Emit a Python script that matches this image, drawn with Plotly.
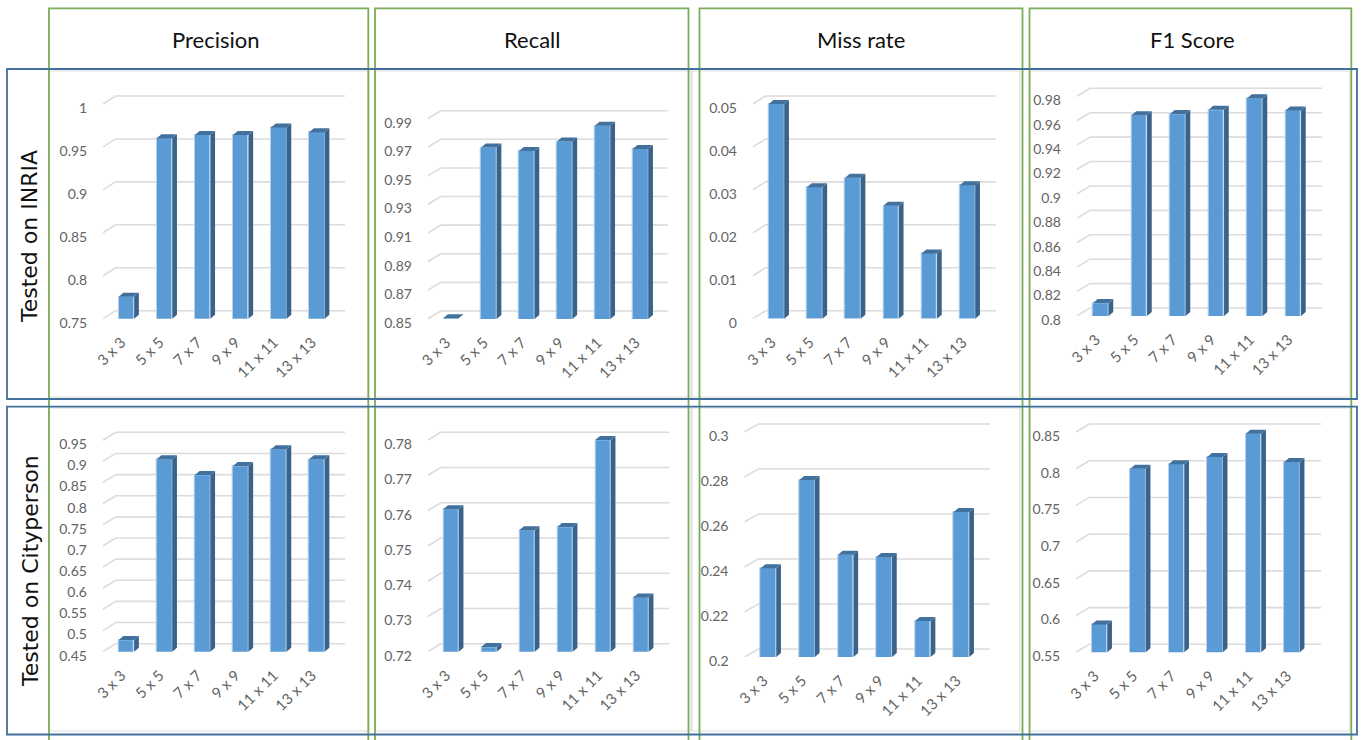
import plotly.graph_objects as go

WIDTH, HEIGHT = 1362, 740

kernels = ["3 x 3", "5 x 5", "7 x 7", "9 x 9", "11 x 11", "13 x 13"]
metrics = ["Precision", "Recall", "Miss rate", "F1 Score"]
datasets = ["Tested on INRIA", "Tested on Cityperson"]

inria_precision = [0.7756, 0.960, 0.964, 0.964, 0.9727, 0.967]
inria_recall = [0.8505, 0.9698, 0.9675, 0.974, 0.985, 0.9689]
inria_miss = [0.05, 0.0306, 0.0328, 0.0263, 0.0152, 0.0311]
inria_f1 = [0.8107, 0.9645, 0.9656, 0.9689, 0.9784, 0.9683]
city_precision = [0.4777, 0.905, 0.868, 0.889, 0.929, 0.905]
city_recall = [0.7604, 0.7213, 0.7545, 0.7554, 0.7801, 0.7354]
city_miss = [0.2394, 0.2787, 0.2455, 0.2444, 0.2160, 0.2644]
city_f1 = [0.588, 0.80, 0.806, 0.816, 0.8475, 0.809]

ticks_inria_precision = ["0.75", "0.8", "0.85", "0.9", "0.95", "1"]
ticks_inria_recall = ["0.85", "0.87", "0.89", "0.91", "0.93", "0.95", "0.97", "0.99"]
ticks_inria_miss = ["0", "0.01", "0.02", "0.03", "0.04", "0.05"]
ticks_inria_f1 = ["0.8", "0.82", "0.84", "0.86", "0.88", "0.9", "0.92", "0.94", "0.96", "0.98"]
ticks_city_precision = ["0.45", "0.5", "0.55", "0.6", "0.65", "0.7", "0.75", "0.8", "0.85", "0.9", "0.95"]
ticks_city_recall = ["0.72", "0.73", "0.74", "0.75", "0.76", "0.77", "0.78"]
ticks_city_miss = ["0.2", "0.22", "0.24", "0.26", "0.28", "0.3"]
ticks_city_f1 = ["0.55", "0.6", "0.65", "0.7", "0.75", "0.8", "0.85"]

# Pixel frame of each panel: axis x, back wall x, grid end x, front floor y,
# top back gridline y, first bar centre, bar pitch.
panels = [
    (inria_precision, ticks_inria_precision, (103, 115.5, 345, 318.7, 96, 126.4, 38.1)),
    (inria_recall, ticks_inria_recall, (427.7, 440.7, 667.7, 319, 110.7, 451, 37.9)),
    (inria_miss, ticks_inria_miss, (752.7, 765.7, 996, 318.7, 96, 776.5, 38.2)),
    (inria_f1, ticks_inria_f1, (1076.7, 1090, 1322, 316, 88.3, 1100.8, 38.5)),
    (city_precision, ticks_city_precision, (102.7, 115.7, 345, 651.7, 432.3, 126.4, 38.1)),
    (city_recall, ticks_city_recall, (427.7, 440.7, 669.3, 651.7, 432.3, 451, 38)),
    (city_miss, ticks_city_miss, (744.3, 758.3, 990, 657, 424, 768.5, 38.6)),
    (city_f1, ticks_city_f1, (1076, 1089.3, 1321, 652.3, 424, 1099.5, 38.5)),
]

FLOOR_DEPTH = 8
BAR_WIDTH_PX = 15.5
BAR_DX, BAR_DY = 4.7, 4
Y_TICK_FONT = dict(family="Lato", size=14, color="#636363")
X_TICK_FONT = dict(family="Lato", size=15, color="#636363")
FRONT, SIDE, TOP = "#5b9bd5", "#3a638c", "#41719c"
GRID = "#dcdcdc"
GREEN, BLUE = "#7aad55", "#41709c"


def px_x(v):
    return v / WIDTH


def px_y(v):
    return 1 - v / HEIGHT


fig = go.Figure()
shapes = []

for i, (values, tick_text, frame) in enumerate(panels, start=1):
    axis_x, back_x, end_x, floor_y, top_y, centre0, pitch = frame
    tick_vals = [float(t) for t in tick_text]
    y_min, y_max = tick_vals[0], tick_vals[-1]
    scale = (floor_y - FLOOR_DEPTH - top_y) / (y_max - y_min)
    xname, yname = f"x{i}", f"y{i}"
    xkey, ykey = f"xaxis{i}", f"yaxis{i}"

    to_x = lambda p: (p - centre0) / pitch
    half = BAR_WIDTH_PX / 2 / pitch
    dx = BAR_DX / pitch
    dy = BAR_DY / scale
    depth = FLOOR_DEPTH / scale
    dom_right = end_x + 4
    dom_top = top_y - 4

    fig.layout[xkey] = dict(
        domain=[px_x(axis_x), px_x(dom_right)],
        range=[to_x(axis_x), to_x(dom_right)],
        anchor=yname,
        tickmode="array",
        tickvals=list(range(len(kernels))),
        ticktext=kernels,
        tickangle=-45,
        tickfont=X_TICK_FONT,
        ticks="outside",
        ticklen=8,
        tickcolor="rgba(0,0,0,0)",
        ticklabelshift=-5,
        showgrid=False,
        zeroline=False,
        showline=False,
    )
    fig.layout[ykey] = dict(
        domain=[px_y(floor_y), px_y(dom_top)],
        range=[y_min, y_min + (floor_y - dom_top) / scale],
        anchor=xname,
        tickmode="array",
        tickvals=tick_vals,
        ticktext=tick_text,
        tickfont=Y_TICK_FONT,
        ticks="outside",
        ticklen=12,
        tickcolor="rgba(0,0,0,0)",
        ticklabelshift=4,
        showgrid=False,
        zeroline=False,
        showline=False,
    )

    # Back wall gridlines with their slanted run along the side wall
    for v in tick_vals:
        shapes.append(dict(
            type="path", xref=xname, yref=yname, layer="below",
            path=(f"M {to_x(axis_x)} {v} L {to_x(back_x)} {v + depth} "
                  f"L {to_x(end_x)} {v + depth}"),
            line=dict(color=GRID, width=1.6),
        ))

    positions = list(range(len(kernels)))
    fig.add_trace(go.Bar(
        x=positions, y=values, xaxis=xname, yaxis=yname, width=2 * half,
        marker=dict(color=FRONT, line=dict(color="#b5d2ec", width=1)),
        showlegend=False, hoverinfo="y",
    ))

    # Extruded side and top faces of each bar
    for p, v in zip(positions, values):
        r = p + half
        l = p - half
        fig.add_trace(go.Scatter(
            x=[r, r + dx, r + dx, r, r],
            y=[y_min, y_min + dy, v + dy, v, y_min],
            xaxis=xname, yaxis=yname, mode="lines", fill="toself",
            fillcolor=SIDE, line=dict(width=0), showlegend=False, hoverinfo="skip",
        ))
        fig.add_trace(go.Scatter(
            x=[l, r, r + dx, l + dx, l],
            y=[v, v, v + dy, v + dy, v],
            xaxis=xname, yaxis=yname, mode="lines", fill="toself",
            fillcolor=TOP, line=dict(width=0), showlegend=False, hoverinfo="skip",
        ))


def box(x0, y0, x1, y1, color, width):
    return dict(
        type="rect", xref="paper", yref="paper", layer="above",
        x0=px_x(x0), x1=px_x(x1), y0=px_y(y0), y1=px_y(y1),
        line=dict(color=color, width=width), fillcolor="rgba(0,0,0,0)",
    )


# Faint outlines of the individual chart areas
for x0, x1 in [(49, 369), (375, 691), (692, 1020), (1030, 1350)]:
    shapes.append(box(x0, 71, x1, 397, "#dedede", 1.2))
    shapes.append(box(x0, 408, x1, 731, "#dedede", 1.2))

# Table frame: metric columns and dataset rows
for x0, x1 in [(49, 368.3), (375, 688.5), (699.5, 1022.5), (1029.5, 1351.3)]:
    shapes.append(box(x0, 8.3, x1, 760, GREEN, 1.8))
shapes.append(box(7, 69, 1357, 399, BLUE, 1.8))
shapes.append(box(7, 406.7, 1357, 734.5, BLUE, 1.8))

annotations = []
for text, x in zip(metrics, [216, 532, 861, 1192]):
    annotations.append(dict(
        text=text, x=px_x(x), y=px_y(39), xref="paper", yref="paper",
        xanchor="center", yanchor="middle", showarrow=False,
        font=dict(family="Lato", size=22, color="#111111"),
    ))
for text, y in zip(datasets, [237, 571]):
    annotations.append(dict(
        text=text, x=px_x(30), y=px_y(y), xref="paper", yref="paper",
        xanchor="center", yanchor="middle", showarrow=False, textangle=-90,
        font=dict(family="DejaVu Sans", size=22, color="#111111"),
    ))

fig.update_layout(
    width=WIDTH, height=HEIGHT, autosize=False,
    margin=dict(l=0, r=0, t=0, b=0, autoexpand=False),
    paper_bgcolor="white", plot_bgcolor="rgba(0,0,0,0)",
    shapes=shapes, annotations=annotations, bargap=0,
)

fig.write_html("out.html", config=dict(displayModeBar=False))
